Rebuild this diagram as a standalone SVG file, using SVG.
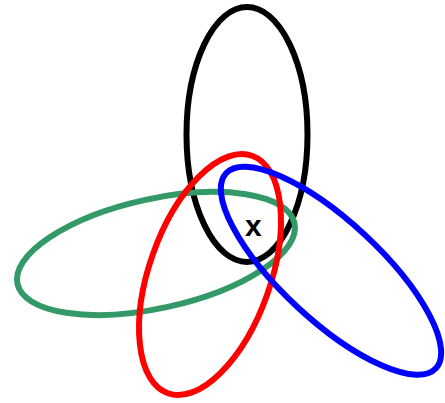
<svg xmlns="http://www.w3.org/2000/svg" width="445" height="403" viewBox="0 0 445 403">
<style>
.e{fill:none;stroke-width:6}
.lbl{font-family:"Liberation Sans",Arial,sans-serif;font-weight:bold;font-size:30px;fill:#000}
</style>
<rect width="445" height="403" fill="#fff"/>
<g id="black"><ellipse class="e" stroke="#000" cx="247" cy="134.5" rx="60.5" ry="127.5"/></g>
<g id="green"><ellipse class="e" stroke="#339966" cx="156" cy="253.5" rx="141.8" ry="54.7" transform="rotate(-12.4 156 253.5)"/></g>
<g id="red"><ellipse class="e" stroke="#ff0000" cx="210" cy="274.5" rx="60.6" ry="126" transform="rotate(19.5 210 274.5)"/></g>
<g id="blue"><ellipse class="e" stroke="#0000ff" cx="331" cy="270.8" rx="143.2" ry="49.4" transform="rotate(42.9 331 270.8)"/></g>
<g id="label"><text class="lbl" x="253.3" y="236" text-anchor="middle">x</text></g>
</svg>
